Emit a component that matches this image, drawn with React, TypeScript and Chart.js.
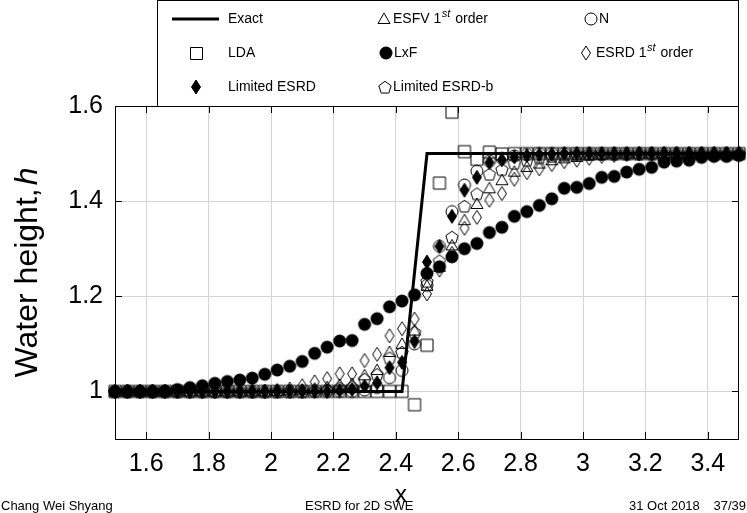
import React, { useEffect, useRef } from 'react';
import { Chart, registerables } from 'chart.js';

Chart.register(...registerables);

// ---------- data ----------
const xNodes = [1.50, 1.54, 1.58, 1.62, 1.66, 1.70, 1.74, 1.78, 1.82, 1.86, 1.90, 1.94, 1.98,
  2.02, 2.06, 2.10, 2.14, 2.18, 2.22, 2.26, 2.30, 2.34, 2.38, 2.42, 2.46, 2.50, 2.54, 2.58, 2.62,
  2.66, 2.70, 2.74, 2.78, 2.82, 2.86, 2.90, 2.94, 2.98, 3.02, 3.06, 3.10, 3.14, 3.18, 3.22, 3.26,
  3.30, 3.34, 3.38, 3.42, 3.46, 3.50];

const exactX = [1.5, 2.42, 2.5, 3.5];
const exactH = [1.0, 1.0, 1.5, 1.5];

const ldaH = [1, 1, 1, 1, 1, 1, 1, 1, 1, 1, 1, 1, 1, 1, 1, 1, 1, 1, 1, 1, 1, 1, 1, 1,
  0.972, 1.097, 1.438, 1.587, 1.504, 1.488, 1.503, 1.499, 1.5,
  1.5, 1.5, 1.5, 1.5, 1.5, 1.5, 1.5, 1.5, 1.5, 1.5, 1.5, 1.5, 1.5, 1.5, 1.5, 1.5, 1.5, 1.5];

const limitedEsrdH = [1, 1, 1, 1, 1, 1, 1, 1, 1, 1, 1, 1, 1, 1, 1, 1, 1, 1,
  1.002, 1.004, 1.011, 1.018, 1.050, 1.061, 1.105, 1.272, 1.305, 1.368, 1.423, 1.450, 1.481,
  1.487, 1.493, 1.496, 1.498, 1.499,
  1.5, 1.5, 1.5, 1.5, 1.5, 1.5, 1.5, 1.5, 1.5, 1.5, 1.5, 1.5, 1.5, 1.5, 1.5];

const esfvH = [1, 1, 1, 1, 1, 1, 1, 1, 1, 1, 1, 1, 1,
  1.001, 1.002, 1.004, 1.006, 1.009, 1.014, 1.016, 1.034, 1.045, 1.083, 1.100, 1.128, 1.222,
  1.262, 1.307, 1.360, 1.394, 1.427, 1.444, 1.462, 1.472, 1.479, 1.486, 1.490, 1.493, 1.496, 1.498,
  1.5, 1.5, 1.5, 1.5, 1.5, 1.5, 1.5, 1.5, 1.5, 1.5, 1.5];

const lxfH = [1.000, 1.000, 1.000, 1.000, 1.001, 1.004, 1.008, 1.012, 1.017, 1.021, 1.024, 1.028,
  1.036, 1.045, 1.053, 1.063, 1.080, 1.093, 1.106, 1.107, 1.141, 1.153, 1.178, 1.190, 1.203,
  1.248, 1.262, 1.283, 1.300, 1.311, 1.334, 1.345, 1.368, 1.378, 1.391, 1.405, 1.427, 1.429,
  1.437, 1.450, 1.452, 1.461, 1.467, 1.471, 1.482, 1.484, 1.486, 1.492, 1.494, 1.494, 1.496];

const limitedEsrdBH = [1, 1, 1, 1, 1, 1, 1, 1, 1, 1, 1, 1, 1, 1, 1, 1,
  1.002, 1.004, 1.008, 1.010, 1.026, 1.036, 1.071, 1.083, 1.125, 1.232, 1.275, 1.325, 1.390,
  1.416, 1.457, 1.467, 1.480, 1.487, 1.492, 1.495, 1.497, 1.499,
  1.5, 1.5, 1.5, 1.5, 1.5, 1.5, 1.5, 1.5, 1.5, 1.5, 1.5, 1.5, 1.5];

const nH = [1, 1, 1, 1, 1, 1, 1, 1, 1, 1, 1, 1, 1, 1, 1, 1, 1, 1, 1, 1,
  1.003, 1.008, 1.029, 1.044, 1.100, 1.223, 1.305, 1.378, 1.434, 1.463, 1.484, 1.490, 1.495, 1.498,
  1.5, 1.5, 1.5, 1.5, 1.5, 1.5, 1.5, 1.5, 1.5, 1.5, 1.5, 1.5, 1.5, 1.5, 1.5, 1.5, 1.5];

const esrdH = [1, 1, 1, 1, 1, 1, 1, 1, 1, 1, 1, 1, 1,
  1.002, 1.005, 1.012, 1.020, 1.027, 1.037, 1.037, 1.065, 1.078, 1.117, 1.132, 1.152, 1.205,
  1.255, 1.290, 1.343, 1.366, 1.402, 1.416, 1.446, 1.460, 1.468, 1.477, 1.483, 1.486, 1.490,
  1.494, 1.496, 1.498,
  1.5, 1.5, 1.5, 1.5, 1.5, 1.5, 1.5, 1.5, 1.5];

const xTicks = [1.6, 1.8, 2.0, 2.2, 2.4, 2.6, 2.8, 3.0, 3.2, 3.4];
const yTicks = [1.0, 1.2, 1.4, 1.6];

// ---------- styling ----------
const FONT = "'Liberation Sans', Arial, Helvetica, sans-serif";

type Draw = (ctx: CanvasRenderingContext2D, cx: number, cy: number) => void;

const drawSquare: Draw = (ctx, cx, cy) => {
  ctx.beginPath(); ctx.rect(cx - 6, cy - 6, 12, 12); ctx.stroke();
};
const drawCircleOpen: Draw = (ctx, cx, cy) => {
  ctx.beginPath(); ctx.arc(cx, cy, 6, 0, Math.PI * 2); ctx.stroke();
};
const drawCircleFilled: Draw = (ctx, cx, cy) => {
  ctx.beginPath(); ctx.arc(cx, cy, 6.5, 0, Math.PI * 2); ctx.fill();
};
const drawTriangle: Draw = (ctx, cx, cy) => {
  ctx.beginPath(); ctx.moveTo(cx, cy - 6); ctx.lineTo(cx + 6, cy + 4.5); ctx.lineTo(cx - 6, cy + 4.5);
  ctx.closePath(); ctx.stroke();
};
const lozengePath = (ctx: CanvasRenderingContext2D, cx: number, cy: number) => {
  ctx.beginPath(); ctx.moveTo(cx, cy - 7); ctx.lineTo(cx + 4.5, cy); ctx.lineTo(cx, cy + 7);
  ctx.lineTo(cx - 4.5, cy); ctx.closePath();
};
const drawLozengeOpen: Draw = (ctx, cx, cy) => { lozengePath(ctx, cx, cy); ctx.stroke(); };
const drawLozengeFilled: Draw = (ctx, cx, cy) => { lozengePath(ctx, cx, cy); ctx.fill(); ctx.stroke(); };
const drawPentagon: Draw = (ctx, cx, cy) => {
  ctx.beginPath();
  for (let i = 0; i < 5; i++) {
    const a = -Math.PI / 2 + (i * 2 * Math.PI) / 5;
    const px = cx + 6.5 * Math.cos(a);
    const py = cy + 0.8 + 6.5 * Math.sin(a);
    if (i === 0) ctx.moveTo(px, py); else ctx.lineTo(px, py);
  }
  ctx.closePath(); ctx.stroke();
};

function makeMarker(draw: Draw): HTMLCanvasElement {
  const c = document.createElement('canvas');
  c.width = 18; c.height = 18;
  const ctx = c.getContext('2d') as CanvasRenderingContext2D;
  ctx.strokeStyle = '#000'; ctx.fillStyle = '#000'; ctx.lineWidth = 1;
  draw(ctx, 9, 9);
  return c;
}

export default function App() {
  const ref = useRef<HTMLCanvasElement | null>(null);

  useEffect(() => {
    const canvas = ref.current;
    if (!canvas) return;

    const mk = {
      square: makeMarker(drawSquare),
      circleOpen: makeMarker(drawCircleOpen),
      circleFilled: makeMarker(drawCircleFilled),
      triangle: makeMarker(drawTriangle),
      lozOpen: makeMarker(drawLozengeOpen),
      lozFilled: makeMarker(drawLozengeFilled),
      pentagon: makeMarker(drawPentagon),
    };

    const pts = (arr: number[]) => xNodes.map((x, i) => ({ x, y: arr[i] }));
    const markerSet = (label: string, arr: number[], style: HTMLCanvasElement) => ({
      label,
      data: pts(arr),
      showLine: false,
      pointStyle: style,
      pointRadius: 7,
      pointHoverRadius: 7,
      borderColor: '#000',
      backgroundColor: '#000',
      clip: false as const,
    });

    const decor = {
      id: 'decor',
      beforeDatasetsDraw(chart: any) {
        const { ctx, chartArea: a, scales } = chart;
        ctx.save();
        ctx.strokeStyle = '#000';
        ctx.lineWidth = 1;
        const L = 7;
        ctx.beginPath();
        for (const v of xTicks) {
          const px = Math.round(scales.x.getPixelForValue(v)) + 0.5;
          ctx.moveTo(px, a.bottom); ctx.lineTo(px, a.bottom - L);
          ctx.moveTo(px, a.top); ctx.lineTo(px, a.top + L);
        }
        for (const v of yTicks) {
          const py = Math.round(scales.y.getPixelForValue(v)) + 0.5;
          ctx.moveTo(a.left, py); ctx.lineTo(a.left + L, py);
          ctx.moveTo(a.right, py); ctx.lineTo(a.right - L, py);
        }
        ctx.stroke();
        ctx.strokeRect(a.left + 0.5, a.top + 0.5, a.right - a.left - 1, a.bottom - a.top);
        ctx.restore();
      },
      afterDraw(chart: any) {
        const { ctx, chartArea: a } = chart;
        ctx.save();
        // ----- legend box -----
        const lx = 157, rx = a.right, ty = 0, by = a.top;
        ctx.fillStyle = '#fff';
        ctx.fillRect(lx, ty, rx - lx, by - ty);
        ctx.strokeStyle = '#000';
        ctx.lineWidth = 1;
        ctx.strokeRect(lx + 0.5, ty + 0.5, rx - lx - 1, by - ty);

        const r1 = 19, r2 = 53, r3 = 87;
        ctx.fillStyle = '#000';
        ctx.strokeStyle = '#000';
        ctx.lineWidth = 3;
        ctx.beginPath(); ctx.moveTo(172, r1); ctx.lineTo(219, r1); ctx.stroke();
        ctx.lineWidth = 1;
        drawSquare(ctx, 196.5, r2 + 0.5);
        drawLozengeFilled(ctx, 196, r3);
        drawTriangle(ctx, 384, r1);
        drawCircleFilled(ctx, 386, r2);
        drawPentagon(ctx, 385, r3);
        drawCircleOpen(ctx, 591, r1);
        drawLozengeOpen(ctx, 586, r2);

        ctx.textBaseline = 'middle';
        ctx.textAlign = 'left';
        ctx.font = `14px ${FONT}`;
        ctx.fillText('Exact', 228, r1);
        ctx.fillText('LDA', 228, r2);
        ctx.fillText('Limited ESRD', 228, r3);
        ctx.fillText('LxF', 394, r2);
        ctx.fillText('Limited ESRD-b', 393, r3);
        ctx.fillText('N', 599, r1);
        const supText = (x: number, y: number, a1: string, sup: string, a2: string) => {
          ctx.font = `14px ${FONT}`;
          ctx.fillText(a1, x, y);
          let w = ctx.measureText(a1).width + 0.5;
          ctx.font = `italic 11px ${FONT}`;
          ctx.fillText(sup, x + w, y - 5);
          w += ctx.measureText(sup).width + 1;
          ctx.font = `14px ${FONT}`;
          ctx.fillText(a2, x + w, y);
        };
        supText(393, r1, 'ESFV 1', 'st', ' order');
        supText(596, r2, 'ESRD 1', 'st', ' order');

        // ----- y axis title -----
        ctx.save();
        ctx.translate(28, (a.top + a.bottom) / 2);
        ctx.rotate(-Math.PI / 2);
        ctx.font = `32px ${FONT}`;
        const t1 = 'Water height,';
        const w1 = ctx.measureText(t1).width;
        ctx.font = `italic 32px ${FONT}`;
        const w2 = ctx.measureText('h').width;
        const gap = 3;
        const sx = -(w1 + gap + w2) / 2;
        ctx.textBaseline = 'middle';
        ctx.font = `32px ${FONT}`;
        ctx.fillText(t1, sx, 0);
        ctx.font = `italic 32px ${FONT}`;
        ctx.fillText('h', sx + w1 + gap, 0);
        ctx.restore();

        // ----- footer -----
        ctx.textBaseline = 'alphabetic';
        ctx.font = `13px ${FONT}`;
        ctx.textAlign = 'left';
        ctx.fillText('Chang Wei Shyang', 1, 510);
        ctx.fillText('ESRD for 2D SWE', 305, 510);
        ctx.fillText('31 Oct 2018', 629, 510);
        ctx.textAlign = 'right';
        ctx.fillText('37/39', 746, 510);

        // ----- x axis title -----
        ctx.textAlign = 'center';
        ctx.font = `24px ${FONT}`;
        ctx.fillText('x', 401, 502);
        ctx.restore();
      },
    };

    const chart = new Chart(canvas, {
      type: 'line',
      data: {
        datasets: [
          markerSet('ESRD 1st order', esrdH, mk.lozOpen),
          markerSet('N', nH, mk.circleOpen),
          markerSet('Limited ESRD-b', limitedEsrdBH, mk.pentagon),
          markerSet('LxF', lxfH, mk.circleFilled),
          markerSet('ESFV 1st order', esfvH, mk.triangle),
          markerSet('Limited ESRD', limitedEsrdH, mk.lozFilled),
          markerSet('LDA', ldaH, mk.square),
          {
            label: 'Exact',
            data: exactX.map((x, i) => ({ x, y: exactH[i] })),
            borderColor: '#000',
            backgroundColor: '#000',
            borderWidth: 3,
            pointRadius: 0,
            tension: 0,
            clip: false as const,
          },
        ],
      },
      options: {
        animation: false,
        responsive: false,
        devicePixelRatio: 1,
        events: [],
        layout: { padding: { left: 0, right: 5, top: 106, bottom: 0 } },
        plugins: { legend: { display: false }, tooltip: { enabled: false }, title: { display: false } },
        scales: {
          x: {
            type: 'linear',
            min: 1.5,
            max: 3.5,
            afterFit: (s: any) => { s.height = 74; },
            afterBuildTicks: (s: any) => { s.ticks = xTicks.map((v) => ({ value: v })); },
            ticks: {
              color: '#000',
              padding: 10,
              maxRotation: 0,
              autoSkip: false,
              font: { family: FONT, size: 25 },
              callback: (v: any) => String(Math.round(Number(v) * 10) / 10),
            },
            grid: { color: '#d4d4d4', lineWidth: 1, drawTicks: false },
            border: { display: false },
          },
          y: {
            type: 'linear',
            min: 0.9,
            max: 1.6,
            afterFit: (s: any) => { s.width = 115; },
            afterBuildTicks: (s: any) => { s.ticks = yTicks.map((v) => ({ value: v })); },
            ticks: {
              color: '#000',
              padding: 12,
              autoSkip: false,
              font: { family: FONT, size: 25 },
              callback: (v: any) => String(Math.round(Number(v) * 10) / 10),
            },
            grid: { color: '#d4d4d4', lineWidth: 1, drawTicks: false },
            border: { display: false },
          },
        },
      },
      plugins: [decor],
    } as any);

    return () => chart.destroy();
  }, []);

  return (
    <div style={{ position: 'fixed', left: 0, top: 0, width: 747, height: 513, background: '#fff' }}>
      <canvas ref={ref} width={747} height={513} style={{ display: 'block', width: 747, height: 513 }} />
    </div>
  );
}
